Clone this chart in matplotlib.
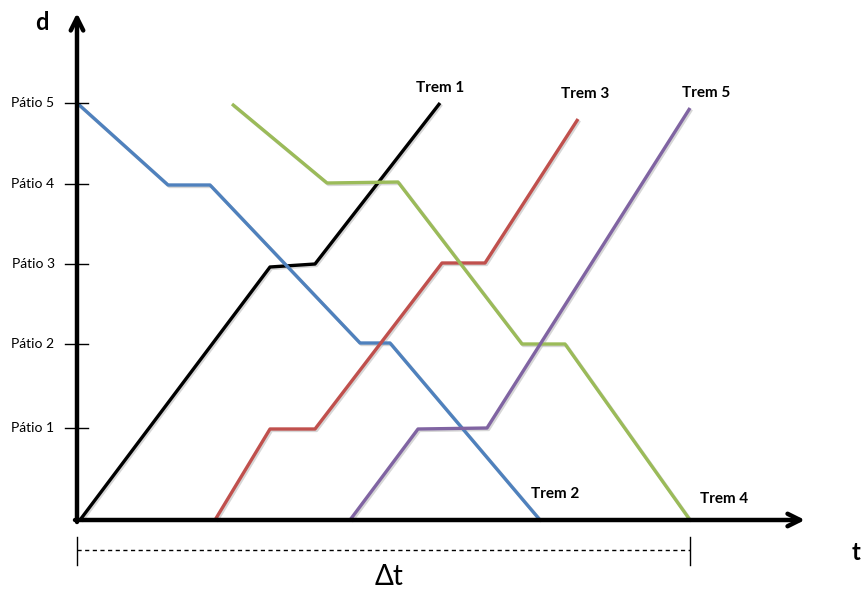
import numpy as np
import matplotlib
matplotlib.use('Agg')
import matplotlib.pyplot as plt

#%% Data: time (t) and distance (d) of each train
patio_names = ['Pátio 1', 'Pátio 2', 'Pátio 3', 'Pátio 4', 'Pátio 5']
patio_d = [92, 176, 256, 336, 417]

trem1_t = [3, 193, 238, 363]
trem1_d = [0, 253, 256, 417]

trem2_t = [0, 91, 133, 283, 313, 463]
trem2_d = [417, 335, 335, 177, 177, 0]

trem3_t = [138, 193, 238, 365, 408, 501]
trem3_d = [0, 91, 91, 257, 257, 401]

trem4_t = [155, 250, 321, 445, 488, 613]
trem4_d = [416, 337, 338, 176, 176, 0]

trem5_t = [273, 341, 410, 613]
trem5_d = [0, 91, 92, 412]

delta_t = [0, 613]

#%% Figure
fig = plt.figure(figsize=(8.61, 5.93), dpi=100)
ax = fig.add_axes([0, 0, 1, 1])
ax.set_xlim(-77, 784)
ax.set_ylim(-73, 520)
ax.axis('off')

fam = ['Lato', 'DejaVu Sans']

# shadowed train lines
trains = [(trem1_t, trem1_d, 'black'),
          (trem2_t, trem2_d, '#4F81BD'),
          (trem3_t, trem3_d, '#C0504D'),
          (trem4_t, trem4_d, '#9BBB59'),
          (trem5_t, trem5_d, '#8064A2')]
for t, d, c in trains:
    ax.plot(np.array(t) + 1.5, np.array(d) - 1.5, color='#bbbbbb', lw=2.4,
            alpha=0.6, solid_capstyle='butt', zorder=2)
    ax.plot(t, d, color=c, lw=2.4, solid_capstyle='butt', zorder=3)

# axes with arrow heads
ax.annotate('', xy=(0, 507), xytext=(0, -2),
            arrowprops=dict(arrowstyle='->,head_length=0.9,head_width=0.45',
                            lw=3.2, color='black', shrinkA=0, shrinkB=0),
            zorder=4)
ax.annotate('', xy=(728, 0), xytext=(-2, 0),
            arrowprops=dict(arrowstyle='->,head_length=0.9,head_width=0.45',
                            lw=3.2, color='black', shrinkA=0, shrinkB=0),
            zorder=4)

# ticks and labels on d axis
for name, d in zip(patio_names, patio_d):
    ax.plot([-12, 11], [d, d], color='black', lw=1.0, zorder=4)
    ax.text(-44, d, name, ha='center', va='center', fontsize=10, family=fam)

ax.text(-35, 498, 'd', ha='center', va='center', fontsize=17,
        fontweight='bold', family=fam)
ax.text(783, -32, 't', ha='right', va='center', fontsize=17,
        fontweight='bold', family=fam)

# train labels
ax.text(363, 432, 'Trem 1', ha='center', va='center', fontsize=11,
        fontweight='bold', family=fam)
ax.text(508, 426, 'Trem 3', ha='center', va='center', fontsize=11,
        fontweight='bold', family=fam)
ax.text(629, 427, 'Trem 5', ha='center', va='center', fontsize=11,
        fontweight='bold', family=fam)
ax.text(478, 26, 'Trem 2', ha='center', va='center', fontsize=11,
        fontweight='bold', family=fam)
ax.text(647, 21, 'Trem 4', ha='center', va='center', fontsize=11,
        fontweight='bold', family=fam)

# delta t bracket
ax.plot(delta_t, [-30, -30], color='black', lw=1.0, ls=(0, (3, 2.5)))
for t in delta_t:
    ax.plot([t, t], [-17, -45], color='black', lw=1.0)
ax.text(312, -57, 'Δt', ha='center', va='center', fontsize=20, family=fam)

fig.savefig('out.png', dpi=100)
